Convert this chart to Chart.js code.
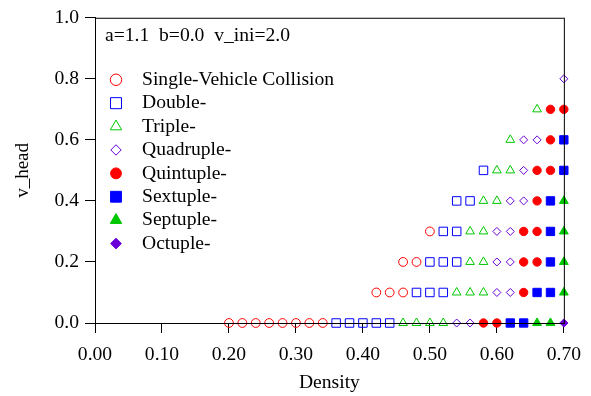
<!DOCTYPE html>
<html>
<head>
<meta charset="utf-8">
<script src="https://cdn.jsdelivr.net/npm/chart.js@4.4.0/dist/chart.umd.min.js"></script>
<style>
  html, body { margin: 0; padding: 0; background: #fff; }
  #wrap { width: 591px; height: 396px; }
</style>
</head>
<body>
<div id="wrap"><canvas id="myChart"></canvas></div>
<script>
// DATA  (density, v_head) pairs
const seriesNames = ['Single-Vehicle Collision', 'Double-', 'Triple-', 'Quadruple-',
                     'Quintuple-', 'Sextuple-', 'Septuple-', 'Octuple-'];
const paramText = 'a=1.1  b=0.0  v_ini=2.0';
const xTicks = [0, 0.1, 0.2, 0.3, 0.4, 0.5, 0.6, 0.7];
const yTicks = [0, 0.2, 0.4, 0.6, 0.8, 1.0];

const single = [[0.20,0],[0.22,0],[0.24,0],[0.26,0],[0.28,0],[0.30,0],[0.32,0],[0.34,0],
                [0.42,0.1],[0.44,0.1],[0.46,0.1],[0.46,0.2],[0.48,0.2],[0.50,0.3]];
const double = [[0.36,0],[0.38,0],[0.40,0],[0.42,0],[0.44,0],[0.48,0.1],[0.50,0.1],[0.52,0.1],
                [0.50,0.2],[0.52,0.2],[0.54,0.2],[0.52,0.3],[0.54,0.3],[0.54,0.4],[0.56,0.4],[0.58,0.5]];
const triple = [[0.46,0],[0.48,0],[0.50,0],[0.52,0],[0.54,0.1],[0.56,0.1],[0.58,0.1],[0.56,0.2],[0.58,0.2],
                [0.56,0.3],[0.58,0.3],[0.58,0.4],[0.60,0.4],[0.60,0.5],[0.62,0.5],[0.62,0.6],[0.66,0.7]];
const quadruple = [[0.54,0],[0.56,0],[0.60,0.1],[0.62,0.1],[0.60,0.2],[0.62,0.2],[0.60,0.3],[0.62,0.3],
                   [0.62,0.4],[0.64,0.4],[0.64,0.5],[0.64,0.6],[0.66,0.6],[0.70,0.8]];
const quintuple = [[0.58,0],[0.60,0],[0.64,0.1],[0.64,0.2],[0.66,0.2],[0.64,0.3],[0.66,0.3],[0.66,0.4],
                   [0.66,0.5],[0.68,0.5],[0.68,0.6],[0.68,0.7],[0.70,0.7]];
const sextuple = [[0.62,0],[0.64,0],[0.66,0.1],[0.68,0.1],[0.68,0.2],[0.68,0.3],[0.68,0.4],[0.70,0.5],[0.70,0.6]];
const septuple = [[0.66,0],[0.68,0],[0.70,0.1],[0.70,0.2],[0.70,0.3],[0.70,0.4]];
const octuple = [[0.70,0]];

const seriesData = [single, double, triple, quadruple, quintuple, sextuple, septuple, octuple];

// STYLE
const styles = [
  { c: '#ff0000', s: 'circle',   r: 4.4, fill: false },
  { c: '#0000ff', s: 'rect',     r: 6.0, fill: false },
  { c: '#00c800', s: 'triangle', r: 5.0, fill: false },
  { c: '#6a00d8', s: 'rectRot',  r: 4.0, fill: false },
  { c: '#ff0000', s: 'circle',   r: 4.2, fill: true },
  { c: '#0000ff', s: 'rect',     r: 5.9, fill: true },
  { c: '#00c800', s: 'triangle', r: 5.1, fill: true },
  { c: '#6a00d8', s: 'rectRot',  r: 4.1, fill: true }
];

const FONT = '"Liberation Serif", "Times New Roman", serif';
const FS = 19.6;

const datasets = seriesData.map((pts, i) => ({
  label: seriesNames[i],
  data: pts.map(p => ({ x: p[0], y: p[1] })),
  pointStyle: styles[i].s,
  pointRadius: styles[i].r,
  pointHoverRadius: styles[i].r,
  borderColor: styles[i].c,
  backgroundColor: styles[i].fill ? styles[i].c : 'rgba(0,0,0,0)',
  borderWidth: 1,
  clip: false
}));

// frame + in-plot legend
const boxAndLegend = {
  id: 'boxAndLegend',
  afterDraw(chart) {
    const { ctx, chartArea: a } = chart;
    ctx.save();
    ctx.strokeStyle = '#000';
    ctx.lineWidth = 1;
    ctx.strokeRect(a.left + 0.5, a.top + 0.5, a.right - a.left, a.bottom - a.top);
    ctx.font = FS + 'px ' + FONT;
    ctx.textBaseline = 'middle';
    ctx.fillStyle = '#000';
    ctx.fillText(paramText, a.left + 10, a.top + 18);
    chart.data.datasets.forEach((ds, i) => {
      const y = a.top + 62 + i * 23.4;
      ctx.fillStyle = ds.backgroundColor;
      ctx.strokeStyle = ds.borderColor;
      ctx.lineWidth = 1;
      Chart.helpers.drawPoint(ctx, { pointStyle: ds.pointStyle, radius: ds.pointRadius * 1.3, rotation: 0, borderWidth: 1 }, a.left + 21, y);
      ctx.fillStyle = '#000';
      ctx.fillText(ds.label, a.left + 47, y);
    });
    ctx.restore();
  }
};

const config = {
  type: 'scatter',
  data: { datasets },
  options: {
    responsive: true,
    maintainAspectRatio: false,
    animation: false,
    events: [],
    layout: { padding: { top: 15, right: 26, left: 0, bottom: 0 } },
    plugins: { legend: { display: false }, tooltip: { enabled: false } },
    scales: {
      x: {
        type: 'linear', min: 0, max: 0.7,
        afterFit: s => { s.height = 73; },
        afterBuildTicks: s => { s.ticks = xTicks.map(v => ({ value: v })); },
        border: { display: true, color: '#000', width: 1 },
        grid: { drawOnChartArea: false, drawTicks: true, tickLength: 10, tickColor: '#000' },
        ticks: { color: '#000', font: { family: FONT, size: FS }, padding: 10,
                 maxRotation: 0, callback: v => v.toFixed(2) },
        title: { display: true, text: 'Density', color: '#000',
                 font: { family: FONT, size: FS }, padding: { top: 0, bottom: 1 } }
      },
      y: {
        type: 'linear', min: 0, max: 1,
        afterFit: s => { s.width = 95; },
        afterBuildTicks: s => { s.ticks = yTicks.map(v => ({ value: v })); },
        border: { display: true, color: '#000', width: 1 },
        grid: { drawOnChartArea: false, drawTicks: true, tickLength: 10, tickColor: '#000' },
        ticks: { color: '#000', font: { family: FONT, size: FS }, padding: 6,
                 callback: v => v.toFixed(1) },
        title: { display: true, text: 'v_head', color: '#000',
                 font: { family: FONT, size: 19 }, padding: { top: 12, bottom: 0 } }
      }
    }
  },
  plugins: [boxAndLegend]
};

//RENDER
const myChart = new Chart(document.getElementById('myChart'), config);
</script>
</body>
</html>
